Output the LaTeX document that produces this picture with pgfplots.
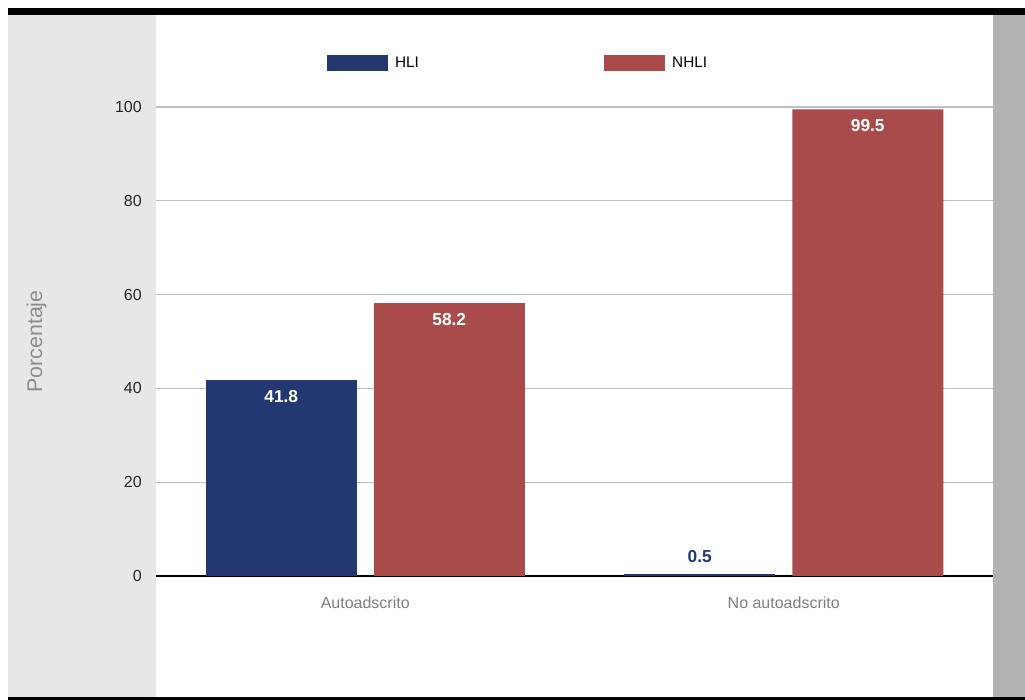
\documentclass[border=0pt]{standalone}
\usepackage{pgfplots}
\pgfplotsset{compat=1.18}
\usepackage{fontspec}
\setmainfont{Liberation Sans}
\definecolor{hliblue}{HTML}{233870}
\definecolor{nhlired}{HTML}{A84B4A}
\definecolor{leftgray}{HTML}{E6E7E9}
\definecolor{rightgray}{HTML}{B1B3B6}
\definecolor{gridgray}{HTML}{C0C0C0}
\definecolor{labgray}{HTML}{7F7F7F}
\begin{document}
\begin{tikzpicture}[x=0.75pt,y=0.75pt]
\fill[white] (0,0) rectangle (1025,700);
\fill[leftgray] (8,3) rectangle (156,685);
\fill[rightgray] (993,3) rectangle (1025,685);
\fill[black] (8,685) rectangle (1025,692);
\fill[black] (8,0) rectangle (1025,3);
\begin{axis}[
  at={(117pt,93pt)}, anchor=south west,
  scale only axis, width=627.75pt, height=351.75pt,
  ybar, bar width=113.25pt,
  xmin=-0.5, xmax=1.5, ymin=0, ymax=100,
  clip=false,
  xtick={0,1}, xticklabels={Autoadscrito, No autoadscrito},
  ytick={0,20,...,100},
  major tick length=0pt,
  axis line style={draw=none},
  ymajorgrids, grid style={gridgray, line width=0.9pt},
  extra y ticks={0}, extra y tick labels={},
  extra y tick style={grid style={black, line width=1.6pt}},
  /pgf/number format/assume math mode=true,
  tick label style={font=\fontsize{12}{12}\selectfont},
  yticklabel style={anchor=east, inner sep=0pt, xshift=-10.5pt, text=black!85},
  xticklabel style={anchor=center, inner sep=0pt, yshift=-20.25pt, text=labgray},
  ylabel={Porcentaje},
  every axis y label/.style={at={(axis description cs:-0.1425,0.5)}, rotate=90, anchor=center, font=\fontsize{16}{16}\selectfont, text=labgray!90},
  legend columns=2,
  legend cell align=left,
  legend style={draw=none, fill=none, at={(0.2043,1.0938)}, anchor=west, inner sep=0pt, outer sep=0pt,
    font=\fontsize{11.5}{11.5}\selectfont, nodes={inner sep=0pt},
    /tikz/every odd column/.append style={column sep=5.25pt},
    /tikz/every even column/.append style={column sep=139pt}},
]
\addplot[fill=hliblue, draw=none, bar shift=-63pt,
  legend image code/.code={\fill[hliblue] (0pt,-6pt) rectangle (45.75pt,6pt);},
  nodes near coords,
  nodes near coords style={font=\bfseries\fontsize{13}{13}\selectfont, text=white, anchor=north, inner sep=0pt, yshift=-7.5pt}]
  coordinates {(0,41.8)};
\addlegendentry{HLI}
\addplot[fill=hliblue, draw=none, bar shift=-63pt, forget plot,
  nodes near coords,
  nodes near coords style={font=\bfseries\fontsize{13}{13}\selectfont, text=hliblue, anchor=south, inner sep=0pt, yshift=8.25pt}]
  coordinates {(1,0.5)};
\addplot[fill=nhlired, draw=none, bar shift=63pt,
  legend image code/.code={\fill[nhlired] (0pt,-6pt) rectangle (45.75pt,6pt);},
  nodes near coords,
  nodes near coords style={font=\bfseries\fontsize{13}{13}\selectfont, text=white, anchor=north, inner sep=0pt, yshift=-7.5pt}]
  coordinates {(0,58.2) (1,99.5)};
\addlegendentry{NHLI}
\end{axis}
\end{tikzpicture}
\end{document}
